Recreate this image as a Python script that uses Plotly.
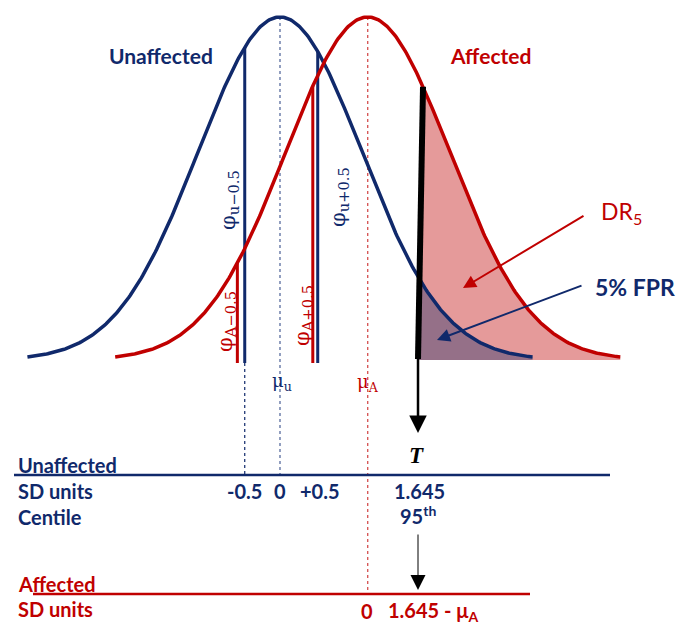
import numpy as np
import plotly.graph_objects as go

# ---------------- data (x in SD units of the unaffected distribution) ----------------
mean_unaffected = 0.0
mean_affected = 1.07
curve_span_sd = 3.08                      # each curve drawn over +/- this many SD
threshold_sd = 1.645                      # T (95th centile of unaffected)
threshold_drawn = [1.683, 1.744]          # drawn position of T line (bottom, top)
phi_u_positions = [-0.43, 0.46]           # phi_u-0.5, phi_u+0.5 lines (as drawn)
phi_a_positions = [-0.52, 0.40]           # phi_A-0.5, phi_A+0.5 lines (as drawn)
phi_u_labels = ["φ<sub>u−0.5</sub>", "φ<sub>u+0.5</sub>"]
phi_a_labels = ["φ<sub>A−0.5</sub>", "φ<sub>A+0.5</sub>"]
unaff_tick_pos = [-0.43, 0.0, 0.49, 1.707]
unaff_tick_labels = ["-0.5", "0", "+0.5", "1.645"]
centile_label = "95<sup>th</sup>"
aff_tick_pos = [1.06, 1.86]
aff_tick_labels = ["0", "1.645 - μ<sub>A</sub>"]

# ---------------- styles ----------------
BLUE = "#10296b"
RED = "#c00000"
RED_FILL = "#e59a9a"
PURPLE_FILL = "#957088"
SANS = "Lato"
SERIF = "DejaVu Serif"

W, H = 678, 626
PX_PER_SD = 82.0
X0_PX = 280.0           # pixel of mean_unaffected
BASE_PX = 360.0         # baseline pixel
PEAK_H = 343.0          # peak height in pixels

x_range = [-X0_PX / PX_PER_SD, (W - X0_PX) / PX_PER_SD]
y_range = [(BASE_PX - H) / PEAK_H, BASE_PX / PEAK_H]


def dens(x, mu):
    return np.exp(-0.5 * (np.asarray(x) - mu) ** 2)


def Y(py):
    return (BASE_PX - py) / PEAK_H


def X(px):
    return (px - X0_PX) / PX_PER_SD


fig = go.Figure()

xs_u = np.linspace(mean_unaffected - curve_span_sd, mean_unaffected + curve_span_sd, 400)
xs_a = np.linspace(mean_affected - curve_span_sd, mean_affected + curve_span_sd, 400)

t_bot, t_top = threshold_drawn
v_bot = Y(359)


def t_x_at(v):
    v_top = dens(t_top, mean_affected)
    return t_bot + (t_top - t_bot) * (v - v_bot) / (v_top - v_bot)


# red fill (DR5)
xr = np.linspace(t_top, xs_a[-1], 200)
fill_rx = np.concatenate([[t_bot], xr, [xs_a[-1], t_bot]])
fill_ry = np.concatenate([[0], dens(xr, mean_affected), [0, 0]])
fig.add_trace(go.Scatter(x=fill_rx, y=fill_ry, fill="toself", fillcolor=RED_FILL,
                         mode="none", hoverinfo="skip"))

# blue fill (5% FPR)
xb0 = t_bot
for _ in range(10):
    xb0 = t_x_at(float(dens(xb0, mean_unaffected)))
xb = np.linspace(xb0, xs_u[-1], 200)
fill_bx = np.concatenate([[t_bot], xb, [xs_u[-1], t_bot]])
fill_by = np.concatenate([[0], dens(xb, mean_unaffected), [0, 0]])
fig.add_trace(go.Scatter(x=fill_bx, y=fill_by, fill="toself", fillcolor=PURPLE_FILL,
                         mode="none", hoverinfo="skip"))

# dashed reference lines
dash_style = dict(width=1.2, dash="3px,3px")
fig.add_trace(go.Scatter(x=[mean_unaffected, mean_unaffected], y=[1, Y(475)], mode="lines",
                         line=dict(color="#4a5f96", **dash_style), hoverinfo="skip"))
fig.add_trace(go.Scatter(x=[phi_u_positions[0]] * 2, y=[Y(363), Y(475)], mode="lines",
                         line=dict(color=BLUE, **dash_style), hoverinfo="skip"))
fig.add_trace(go.Scatter(x=[mean_affected, mean_affected], y=[1, Y(594)], mode="lines",
                         line=dict(color="#d04040", **dash_style), hoverinfo="skip"))

# unaffected curve
fig.add_trace(go.Scatter(x=xs_u, y=dens(xs_u, mean_unaffected), mode="lines",
                         line=dict(color=BLUE, width=3.5), hoverinfo="skip"))

# phi vertical lines
for xp in phi_u_positions:
    fig.add_trace(go.Scatter(x=[xp, xp], y=[Y(363), float(dens(xp, mean_unaffected))],
                             mode="lines", line=dict(color=BLUE, width=3), hoverinfo="skip"))
for xp in phi_a_positions:
    fig.add_trace(go.Scatter(x=[xp, xp], y=[Y(363), float(dens(xp, mean_affected))],
                             mode="lines", line=dict(color=RED, width=3), hoverinfo="skip"))

# affected curve
fig.add_trace(go.Scatter(x=xs_a, y=dens(xs_a, mean_affected), mode="lines",
                         line=dict(color=RED, width=3.5), hoverinfo="skip"))

# threshold thick line
fig.add_trace(go.Scatter(x=[t_bot, t_top], y=[v_bot, float(dens(t_top, mean_affected))],
                         mode="lines", line=dict(color="black", width=6), hoverinfo="skip"))

annotations = []


def txt(text, x, y, color, size, family=SANS, xanchor="center", angle=0, bold=False):
    if bold:
        text = "<b>" + text + "</b>"
    annotations.append(dict(text=text, x=x, y=y, xref="x", yref="y", showarrow=False,
                            xanchor=xanchor, yanchor="middle", textangle=angle,
                            font=dict(family=family, size=size, color=color)))


def arrow(x_tip, y_tip, x_tail, y_tail, color, width, size):
    annotations.append(dict(text="", x=x_tip, y=y_tip, ax=x_tail, ay=y_tail,
                            xref="x", yref="y", axref="x", ayref="y", showarrow=True,
                            arrowhead=2, arrowsize=size, arrowwidth=width, arrowcolor=color))


# titles on curves
txt("Unaffected", X(161), Y(55), BLUE, 21, bold=True)
txt("Affected", X(490), Y(55), RED, 21, bold=True)

# phi labels
for lab, px, py in zip(phi_u_labels, [229, 339], [200, 197]):
    txt(lab, X(px), Y(py), BLUE, 21, family=SERIF, angle=-90)
for lab, px, py in zip(phi_a_labels, [226, 303], [322, 316]):
    txt(lab, X(px), Y(py), RED, 21, family=SERIF, angle=-90)

# mu labels
txt("μ<sub>u</sub>", mean_unaffected + 0.03, Y(382), BLUE, 18, family=SERIF)
txt("μ<sub>A</sub>", mean_affected, Y(383), RED, 18, family=SERIF)

# DR5 / FPR
txt("DR<sub>5</sub>", X(621), Y(212), RED, 23)
txt("5% FPR", X(635), Y(287), BLUE, 23, bold=True)
arrow(X(463), Y(288), X(585), Y(215), RED, 2, 1.3)
arrow(X(437), Y(340), X(583), Y(285), BLUE, 2, 1.3)

# T arrow
arrow(t_bot, Y(433), t_bot, Y(357), "black", 2.5, 1.4)
txt("<i><b>T</b></i>", X(416), Y(455), "black", 23, family="Liberation Serif")

# lower scale labels
LBL = 20
txt("Unaffected", X(16), Y(465), BLUE, LBL, xanchor="left", bold=True)
txt("SD units", X(16), Y(491), BLUE, LBL, xanchor="left", bold=True)
txt("Centile", X(16), Y(517), BLUE, LBL, xanchor="left", bold=True)
for p, lab in zip(unaff_tick_pos, unaff_tick_labels):
    txt(lab, p, Y(491), BLUE, LBL, bold=True)
txt(centile_label, unaff_tick_pos[-1] - 0.03, Y(515), BLUE, LBL, bold=True)
arrow(X(418), Y(590), X(418), Y(533), "black", 1, 3)

txt("Affected", X(16), Y(584), RED, LBL, xanchor="left", bold=True)
txt("SD units", X(16), Y(609), RED, LBL, xanchor="left", bold=True)
for p, lab in zip(aff_tick_pos, aff_tick_labels):
    txt(lab, p, Y(611), RED, LBL, bold=True)

shapes = [
    dict(type="line", xref="x", yref="y", x0=X(14), x1=X(610), y0=Y(475), y1=Y(475),
         line=dict(color=BLUE, width=2.5)),
    dict(type="line", xref="x", yref="y", x0=X(33), x1=X(530), y0=Y(594), y1=Y(594),
         line=dict(color=RED, width=2.5)),
]

fig.update_layout(
    width=W, height=H, autosize=False,
    margin=dict(l=0, r=0, t=0, b=0, pad=0),
    paper_bgcolor="white", plot_bgcolor="white",
    showlegend=False,
    xaxis=dict(range=x_range, visible=False, fixedrange=True),
    yaxis=dict(range=y_range, visible=False, fixedrange=True),
    annotations=annotations, shapes=shapes,
)

fig.write_html("out.html", config={"displayModeBar": False},
               post_script="document.body.style.margin='0';document.body.style.overflow='hidden';")
